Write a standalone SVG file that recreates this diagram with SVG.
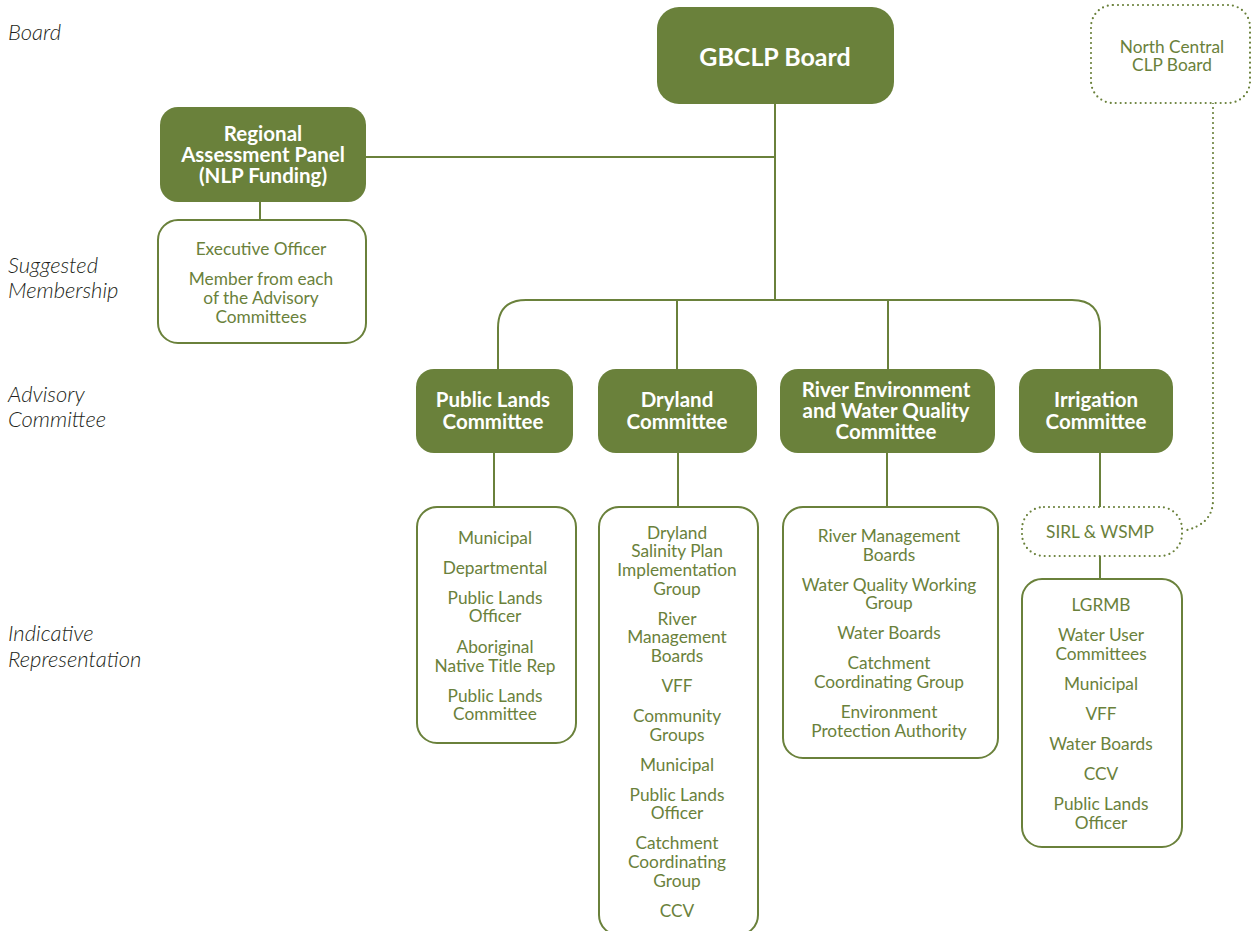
<svg xmlns="http://www.w3.org/2000/svg" width="1252" height="931" viewBox="0 0 1252 931">
<style>
.bg{fill:#ffffff}
.solid{fill:#6a813b}
.outline{fill:#ffffff;stroke:#6a813b;stroke-width:2}
.dotted{fill:#ffffff;stroke:#6a813b;stroke-width:2.2;stroke-dasharray:0 5;stroke-linecap:round}
.line{fill:none;stroke:#6a813b;stroke-width:2}
.dline{fill:none;stroke:#6a813b;stroke-width:2.2;stroke-dasharray:0 5;stroke-linecap:round}
.title{font-family:Lato,"Liberation Sans",sans-serif;font-weight:700;font-size:20.5px;fill:#ffffff;text-anchor:middle}
.item{font-family:Lato,"Liberation Sans",sans-serif;font-size:17.3px;fill:#6a813b;text-anchor:middle}
.side{font-family:Lato,"Liberation Sans",sans-serif;font-style:italic;font-weight:300;font-size:22px;fill:#231f20}
</style>
<rect class="bg" x="0" y="0" width="1252" height="931"/>
<g id="side-labels">
<text class="side" x="8" y="40">Board</text>
<text class="side" x="8" y="273">Suggested</text>
<text class="side" x="8" y="298">Membership</text>
<text class="side" x="8" y="402">Advisory</text>
<text class="side" x="8" y="427">Committee</text>
<text class="side" x="8" y="641">Indicative</text>
<text class="side" x="8" y="667">Representation</text>
</g>
<g id="connectors">
<path class="line" d="M775,104 V300"/>
<path class="line" d="M366,157 H775"/>
<path class="line" d="M260,202 V220"/>
<path class="line" d="M498,369 V328 Q498,300 526,300 H1072 Q1100,300 1100,328 V369"/>
<path class="line" d="M677,300 V369"/>
<path class="line" d="M888,300 V369"/>
<path class="line" d="M494,453 V507"/>
<path class="line" d="M678,453 V507"/>
<path class="line" d="M887,453 V507"/>
<path class="line" d="M1100,453 V507"/>
<path class="line" d="M1100,556 V579"/>
<path class="dline" d="M1213,103 V500 Q1213,525 1183,531"/>
</g>
<g id="gbclp-board">
<rect class="solid" x="657" y="7" width="237" height="97" rx="22"/>
<text class="title" x="775" y="66" style="font-size:25px">GBCLP Board</text>
</g>
<g id="north-central">
<rect class="dotted" x="1091" y="5" width="159" height="98" rx="22"/>
<text class="item" x="1172" y="53">North Central</text>
<text class="item" x="1172" y="71">CLP Board</text>
</g>
<g id="regional-panel">
<rect class="solid" x="160" y="107" width="206" height="95" rx="18"/>
<text class="title" x="263" y="141">Regional</text>
<text class="title" x="263" y="162">Assessment Panel</text>
<text class="title" x="263" y="183">(NLP Funding)</text>
</g>
<g id="suggested-membership">
<rect class="outline" x="158" y="220" width="208" height="123" rx="20"/>
<text class="item" x="261" y="255">Executive Officer</text>
<text class="item" x="261" y="285">Member from each</text>
<text class="item" x="261" y="304">of the Advisory</text>
<text class="item" x="261" y="323">Committees</text>
</g>
<g id="public-lands-committee">
<rect class="solid" x="416" y="369" width="157" height="84" rx="18"/>
<text class="title" x="493" y="407">Public Lands</text>
<text class="title" x="493" y="429">Committee</text>
</g>
<g id="dryland-committee">
<rect class="solid" x="598" y="369" width="159" height="84" rx="18"/>
<text class="title" x="677" y="407">Dryland</text>
<text class="title" x="677" y="429">Committee</text>
</g>
<g id="river-committee">
<rect class="solid" x="780" y="369" width="215" height="84" rx="18"/>
<text class="title" x="886" y="397">River Environment</text>
<text class="title" x="886" y="418">and Water Quality</text>
<text class="title" x="886" y="439">Committee</text>
</g>
<g id="irrigation-committee">
<rect class="solid" x="1019" y="369" width="154" height="84" rx="18"/>
<text class="title" x="1096" y="407">Irrigation</text>
<text class="title" x="1096" y="429">Committee</text>
</g>
<g id="public-lands-members">
<rect class="outline" x="417" y="507" width="159" height="236" rx="20"/>
<text class="item" x="495" y="544">Municipal</text>
<text class="item" x="495" y="574">Departmental</text>
<text class="item" x="495" y="604">Public Lands</text>
<text class="item" x="495" y="622">Officer</text>
<text class="item" x="495" y="653">Aboriginal</text>
<text class="item" x="495" y="672">Native Title Rep</text>
<text class="item" x="495" y="702">Public Lands</text>
<text class="item" x="495" y="720">Committee</text>
</g>
<g id="dryland-members">
<rect class="outline" x="599" y="507" width="159" height="428" rx="20"/>
<text class="item" x="677" y="539">Dryland</text>
<text class="item" x="677" y="557">Salinity Plan</text>
<text class="item" x="677" y="576">Implementation</text>
<text class="item" x="677" y="595">Group</text>
<text class="item" x="677" y="625">River</text>
<text class="item" x="677" y="643">Management</text>
<text class="item" x="677" y="662">Boards</text>
<text class="item" x="677" y="692">VFF</text>
<text class="item" x="677" y="722">Community</text>
<text class="item" x="677" y="741">Groups</text>
<text class="item" x="677" y="771">Municipal</text>
<text class="item" x="677" y="801">Public Lands</text>
<text class="item" x="677" y="819">Officer</text>
<text class="item" x="677" y="849">Catchment</text>
<text class="item" x="677" y="868">Coordinating</text>
<text class="item" x="677" y="887">Group</text>
<text class="item" x="677" y="917">CCV</text>
</g>
<g id="river-members">
<rect class="outline" x="783" y="507" width="215" height="251" rx="20"/>
<text class="item" x="889" y="542">River Management</text>
<text class="item" x="889" y="561">Boards</text>
<text class="item" x="889" y="591">Water Quality Working</text>
<text class="item" x="889" y="609">Group</text>
<text class="item" x="889" y="639">Water Boards</text>
<text class="item" x="889" y="669">Catchment</text>
<text class="item" x="889" y="688">Coordinating Group</text>
<text class="item" x="889" y="718">Environment</text>
<text class="item" x="889" y="737">Protection Authority</text>
</g>
<g id="sirl-wsmp">
<rect class="dotted" x="1022" y="507" width="160" height="49" rx="22"/>
<text class="item" x="1100" y="538">SIRL &amp; WSMP</text>
</g>
<g id="irrigation-members">
<rect class="outline" x="1022" y="579" width="160" height="268" rx="20"/>
<text class="item" x="1101" y="611">LGRMB</text>
<text class="item" x="1101" y="641">Water User</text>
<text class="item" x="1101" y="660">Committees</text>
<text class="item" x="1101" y="690">Municipal</text>
<text class="item" x="1101" y="720">VFF</text>
<text class="item" x="1101" y="750">Water Boards</text>
<text class="item" x="1101" y="780">CCV</text>
<text class="item" x="1101" y="810">Public Lands</text>
<text class="item" x="1101" y="829">Officer</text>
</g>
</svg>
